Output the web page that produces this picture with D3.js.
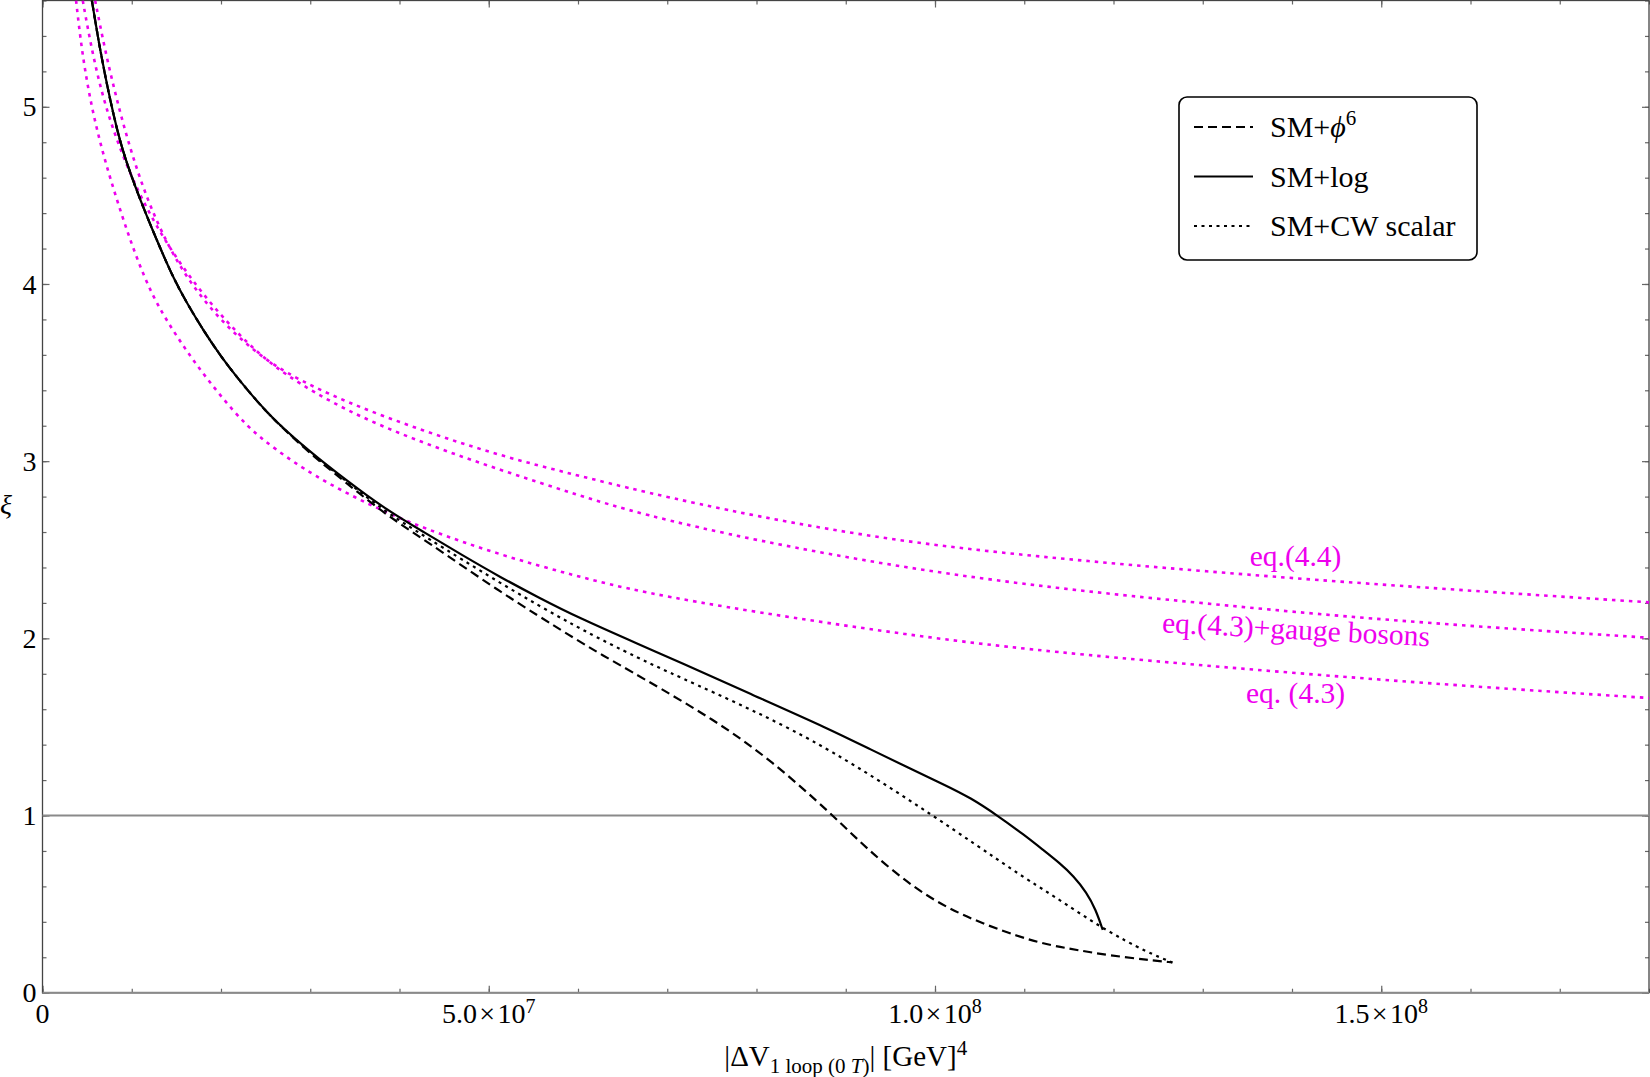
<!DOCTYPE html>
<html>
<head>
<meta charset="utf-8">
<script src="https://cdn.jsdelivr.net/npm/d3@7"></script>
<style>
  html, body { margin: 0; padding: 0; background: #fff; }
  svg { display: block; font-family: "Liberation Serif", "DejaVu Serif", serif; }
</style>
</head>
<body>
<svg id="chart"></svg>
<script>
// Data: [|dV| (GeV^4), xi]
const smPhi6 = [
  [0.553e7, 5.60], [0.646e7, 5.317], [0.758e7, 5.035], [0.889e7, 4.754], [1.095e7, 4.472],
  [1.32e7, 4.20], [1.47e7, 4.03], [1.62e7, 3.89], [1.80e7, 3.74], [2.00e7, 3.59],
  [2.20e7, 3.46], [2.40e7, 3.34], [2.60e7, 3.23], [2.98e7, 3.05], [3.41e7, 2.875],
  [3.84e7, 2.70], [4.27e7, 2.56], [5.13e7, 2.26], [5.99e7, 1.99], [6.24e7, 1.915],
  [6.71e7, 1.78], [7.53e7, 1.54], [8.17e7, 1.31], [8.86e7, 1.00], [9.24e7, 0.81],
  [9.76e7, 0.59], [10.27e7, 0.44], [10.96e7, 0.31], [11.32e7, 0.265], [11.60e7, 0.24],
  [11.96e7, 0.21], [12.39e7, 0.185], [12.66e7, 0.171]
]

const smLog = [
  [0.553e7, 5.60], [0.646e7, 5.317], [0.758e7, 5.035], [0.889e7, 4.754], [1.095e7, 4.472],
  [1.32e7, 4.20], [1.47e7, 4.03], [1.62e7, 3.89], [1.80e7, 3.74], [2.00e7, 3.59],
  [2.20e7, 3.46], [2.40e7, 3.34], [2.60e7, 3.23], [2.98e7, 3.06], [3.41e7, 2.89],
  [3.84e7, 2.73], [4.27e7, 2.60], [4.70e7, 2.47], [5.13e7, 2.345], [5.56e7, 2.23],
  [5.99e7, 2.12], [6.71e7, 1.96], [7.10e7, 1.875], [7.96e7, 1.68], [8.81e7, 1.49],
  [9.29e7, 1.37], [9.70e7, 1.27], [10.10e7, 1.175], [10.40e7, 1.10], [10.70e7, 1.00],
  [11.00e7, 0.89], [11.21e7, 0.806], [11.40e7, 0.73], [11.55e7, 0.66], [11.70e7, 0.565],
  [11.80e7, 0.47], [11.88e7, 0.354]
]

const smCW = [
  [0.553e7, 5.60], [0.646e7, 5.317], [0.758e7, 5.035], [0.889e7, 4.754], [1.095e7, 4.472],
  [1.32e7, 4.20], [1.47e7, 4.03], [1.62e7, 3.89], [1.80e7, 3.74], [2.00e7, 3.59],
  [2.20e7, 3.46], [2.40e7, 3.34], [2.60e7, 3.23], [2.98e7, 3.055], [3.41e7, 2.885],
  [3.84e7, 2.715], [4.27e7, 2.58], [5.13e7, 2.31], [5.99e7, 2.06], [6.71e7, 1.88],
  [7.10e7, 1.79], [7.96e7, 1.595], [8.81e7, 1.38], [9.97e7, 1.005], [10.96e7, 0.66],
  [11.32e7, 0.55], [11.88e7, 0.36], [12.39e7, 0.225], [12.66e7, 0.171]
]

const eq44 = [
  [0.59e7, 5.60], [0.70e7, 5.32], [0.834e7, 5.035], [0.983e7, 4.76], [1.17e7, 4.48],
  [1.40e7, 4.22], [1.65e7, 4.01], [1.95e7, 3.82], [2.30e7, 3.65], [2.70e7, 3.50],
  [3.41e7, 3.33], [4.27e7, 3.17], [5.13e7, 3.03], [5.99e7, 2.92], [6.71e7, 2.83],
  [7.96e7, 2.69], [9.67e7, 2.54], [11.38e7, 2.45], [12.96e7, 2.38], [15.04e7, 2.30],
  [18.1e7, 2.20]
]

const eq43Gauge = [
  [0.451e7, 5.60], [0.553e7, 5.317], [0.684e7, 5.035], [0.871e7, 4.754], [1.114e7, 4.472],
  [1.433e7, 4.19], [1.845e7, 3.907], [2.30e7, 3.66], [2.70e7, 3.49], [3.41e7, 3.28],
  [4.27e7, 3.10], [5.13e7, 2.95], [5.99e7, 2.81], [6.71e7, 2.70], [7.96e7, 2.555],
  [9.67e7, 2.395], [11.38e7, 2.28], [12.96e7, 2.20], [15.04e7, 2.10], [18.1e7, 2.00]
]

const eq43 = [
  [0.376e7, 5.60], [0.44e7, 5.317], [0.534e7, 5.035], [0.665e7, 4.754], [0.834e7, 4.472],
  [1.02e7, 4.19], [1.23e7, 3.93], [1.47e7, 3.73], [1.70e7, 3.56], [1.975e7, 3.38],
  [2.30e7, 3.19], [2.60e7, 3.07], [3.03e7, 2.92], [3.67e7, 2.75], [4.27e7, 2.62],
  [5.13e7, 2.47], [5.99e7, 2.35], [6.71e7, 2.26], [7.96e7, 2.15], [9.67e7, 2.02],
  [11.38e7, 1.915], [15.04e7, 1.76], [18.1e7, 1.66]
]

// Tick labels
const xTickValues = [0, 5e7, 1e8, 1.5e8]
const xTickLabels = ["0", "5.0\u200a×\u200a10^7", "1.0\u200a×\u200a10^8", "1.5\u200a×\u200a10^8"]
const yTickValues = [0, 1, 2, 3, 4, 5]

// Legend and curve labels
const legendNames = ["SM+ϕ6", "SM+log", "SM+CW scalar"]
const curveLabels = [
  { text: "eq.(4.4)", at: [14.04e7, 2.41], angle: 0 },
  { text: "eq.(4.3)+gauge bosons", at: [14.04e7, 1.995], angle: 3 },
  { text: "eq. (4.3)", at: [14.04e7, 1.635], angle: 0 }
]

const width = 1650
const height = 1077
const plotLeft = 42.5, plotRight = 1649, plotTop = 0.5, plotBottom = 992.7
const magenta = "#ee00ee"

const svg = d3.select("#chart")
  .attr("width", width)
  .attr("height", height)

svg.append("rect")
  .attr("width", width)
  .attr("height", height)
  .attr("fill", "#fff")

// Scales
const x = d3.scaleLinear().domain([0, 1.8e8]).range([plotLeft, plotRight])
const y = d3.scaleLinear().domain([0, 5.6]).range([plotBottom, plotTop])

svg.append("clipPath")
  .attr("id", "plot-clip")
  .append("rect")
  .attr("x", plotLeft)
  .attr("y", plotTop)
  .attr("width", plotRight - plotLeft)
  .attr("height", plotBottom - plotTop)

// Frame ticks, all pointing inward
const tickStyle = g => {
  g.select(".domain").remove()
  g.selectAll(".tick line").attr("stroke", "#666").attr("stroke-width", 1.2)
  g.selectAll(".tick text").remove()
}

svg.append("g").attr("transform", `translate(0,${plotBottom})`)
  .call(d3.axisBottom(x).ticks(18).tickSize(-4)).call(tickStyle)
svg.append("g").attr("transform", `translate(0,${plotBottom})`)
  .call(d3.axisBottom(x).tickValues(xTickValues).tickSize(-7)).call(tickStyle)
svg.append("g").attr("transform", `translate(0,${plotTop})`)
  .call(d3.axisTop(x).ticks(18).tickSize(-4)).call(tickStyle)
svg.append("g").attr("transform", `translate(0,${plotTop})`)
  .call(d3.axisTop(x).tickValues(xTickValues).tickSize(-7)).call(tickStyle)
svg.append("g").attr("transform", `translate(${plotLeft},0)`)
  .call(d3.axisLeft(y).ticks(28).tickSize(-4)).call(tickStyle)
svg.append("g").attr("transform", `translate(${plotLeft},0)`)
  .call(d3.axisLeft(y).tickValues(yTickValues).tickSize(-7)).call(tickStyle)
svg.append("g").attr("transform", `translate(${plotRight},0)`)
  .call(d3.axisRight(y).ticks(28).tickSize(-4)).call(tickStyle)
svg.append("g").attr("transform", `translate(${plotRight},0)`)
  .call(d3.axisRight(y).tickValues(yTickValues).tickSize(-7)).call(tickStyle)

// Frame
svg.append("rect")
  .attr("x", plotLeft)
  .attr("y", plotTop)
  .attr("width", plotRight - plotLeft)
  .attr("height", plotBottom - plotTop)
  .attr("fill", "none")
  .attr("stroke", "#444")
  .attr("stroke-width", 1.3)

// Axis line at xi = 0 and reference line at xi = 1
svg.append("g")
  .selectAll("line")
  .data([0, 1])
  .join("line")
  .attr("x1", plotLeft)
  .attr("x2", plotRight)
  .attr("y1", d => y(d))
  .attr("y2", d => y(d))
  .attr("stroke", "#8a8a8a")
  .attr("stroke-width", 2)

// Tick labels
const xLabels = svg.append("g")
  .attr("font-size", 28)
  .attr("text-anchor", "middle")
  .selectAll("text")
  .data(xTickValues)
  .join("text")
  .attr("x", d => x(d))
  .attr("y", plotBottom + 30.5)

xLabels.each(function(d, i) {
  const [base, exp] = xTickLabels[i].split("^")
  const t = d3.select(this)
  t.append("tspan").text(base)
  if (exp) t.append("tspan").attr("font-size", 20).attr("dy", -10).text(exp)
})

svg.append("g")
  .attr("font-size", 28)
  .attr("text-anchor", "end")
  .selectAll("text")
  .data(yTickValues)
  .join("text")
  .attr("x", plotLeft - 6)
  .attr("y", d => y(d))
  .attr("dy", "0.34em")
  .text(d => d)

// Axis titles
const xTitle = svg.append("text")
  .attr("x", (plotLeft + plotRight) / 2)
  .attr("y", 1066)
  .attr("font-size", 29)
  .attr("text-anchor", "middle")
xTitle.append("tspan").text("|ΔV")
xTitle.append("tspan").attr("font-size", 21).attr("dy", 7).text("1 loop (0 ")
xTitle.append("tspan").attr("font-size", 21).attr("font-style", "italic").text("T")
xTitle.append("tspan").attr("font-size", 21).text(")")
xTitle.append("tspan").attr("dy", -7).text("| [GeV]")
xTitle.append("tspan").attr("font-size", 21).attr("dy", -11).text("4")

svg.append("text")
  .attr("x", 6)
  .attr("y", 514)
  .attr("font-size", 28)
  .attr("font-style", "italic")
  .attr("text-anchor", "middle")
  .text("ξ")

// Curves
const line = d3.line()
  .x(d => x(d[0]))
  .y(d => y(d[1]))
  .curve(d3.curveBasis)

const series = [
  { data: eq43, color: magenta, width: 2.6, dash: "3.5,5" },
  { data: eq43Gauge, color: magenta, width: 2.6, dash: "3.5,5" },
  { data: eq44, color: magenta, width: 2.6, dash: "3.5,5" },
  { data: smCW, color: "#000", width: 2.2, dash: "3,4.5" },
  { data: smPhi6, color: "#000", width: 2.2, dash: "9,5" },
  { data: smLog, color: "#000", width: 2.2, dash: null }
]

svg.append("g")
  .attr("clip-path", "url(#plot-clip)")
  .selectAll("path")
  .data(series)
  .join("path")
  .attr("d", d => line(d.data))
  .attr("fill", "none")
  .attr("stroke", d => d.color)
  .attr("stroke-width", d => d.width)
  .attr("stroke-dasharray", d => d.dash)

// Curve labels
svg.append("g")
  .attr("font-size", 29.5)
  .attr("fill", magenta)
  .attr("text-anchor", "middle")
  .selectAll("text")
  .data(curveLabels)
  .join("text")
  .attr("transform", d => `translate(${x(d.at[0])},${y(d.at[1])}) rotate(${d.angle})`)
  .text(d => d.text)

// Legend
const legend = svg.append("g")
legend.append("rect")
  .attr("x", 1179)
  .attr("y", 97)
  .attr("width", 298)
  .attr("height", 163)
  .attr("rx", 8)
  .attr("fill", "#fff")
  .attr("stroke", "#000")
  .attr("stroke-width", 1.6)

const legendDash = ["9,5", null, "3,4.5"]
const rows = legend.selectAll("g")
  .data(legendNames)
  .join("g")
  .attr("transform", (d, i) => `translate(1194,${127 + i * 49.5})`)

rows.append("line")
  .attr("x1", 0)
  .attr("x2", 59)
  .attr("stroke", "#000")
  .attr("stroke-width", 2.2)
  .attr("stroke-dasharray", (d, i) => legendDash[i])

rows.append("text")
  .attr("x", 76)
  .attr("y", 10)
  .attr("font-size", 30)
  .each(function(d) {
    const t = d3.select(this)
    if (d === "SM+ϕ6") {
      t.append("tspan").text("SM+")
      t.append("tspan").attr("font-style", "italic").text("ϕ")
      t.append("tspan").attr("font-size", 21).attr("dy", -12).text("6")
    } else {
      t.text(d)
    }
  })
</script>
</body>
</html>
